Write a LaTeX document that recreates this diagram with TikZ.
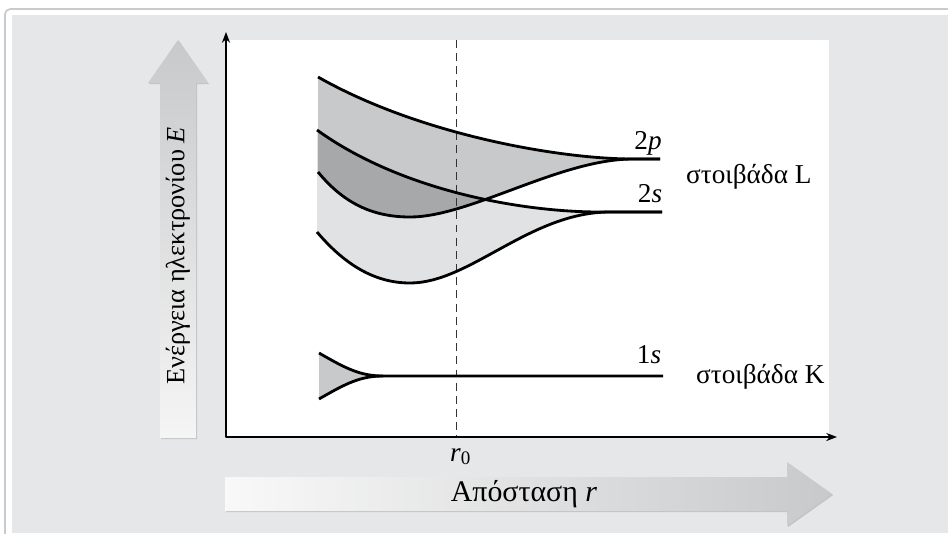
\documentclass[tikz,border=0pt]{standalone}
\usepackage{fontspec}
\setmainfont{Liberation Serif}
\usetikzlibrary{arrows.meta,shadows}
\definecolor{panel}{HTML}{E6E7E8}
\definecolor{rim}{HTML}{C9CACD}
\definecolor{bandmid}{HTML}{C8C9CB}
\definecolor{bandlight}{HTML}{E1E2E3}
\definecolor{banddark}{HTML}{A7A8AA}
\begin{document}
\begin{tikzpicture}[x=0.2mm, y=-0.2mm, line join=round, >=Stealth]
	\tikzset{every node/.style={font=\fontsize{15.5}{18}\selectfont},
		level/.style={line width=1.6pt},
		bigarrow/.style={drop shadow={opacity=0.35,shadow xshift=0.6pt,shadow yshift=-0.6pt}}}
	\def\xo{226}\def\yo{437}\def\rzero{456}
	\useasboundingbox (0,0) rectangle (948,533);
	% frame and plot area
	\draw[rim, line width=1pt, rounded corners=3] (5,560) -- (5,9) -- (970,9);
	\fill[panel] (12,15) rectangle (948,533);
	\fill[white] (\xo,40) rectangle (829,\yo);
	% curves of the L shell
	\def\ptwoup{(318,77) .. controls (420,135) and (560,159) .. (633,159)}
	\def\ptwodown{(318,172) .. controls (345,205) and (375,217) .. (410,217) .. controls (470,217) and (560,159) .. (633,159)}
	\def\ptwodownback{.. controls (560,159) and (470,217) .. (410,217) .. controls (375,217) and (345,205) .. (318,172)}
	\def\stwoup{(317,130) .. controls (400,190) and (520,212) .. (600,212)}
	\def\stwodown{(317,232) .. controls (345,265) and (375,283) .. (410,283) .. controls (470,283) and (530,212) .. (610,212)}
	\def\stwodownback{.. controls (530,212) and (470,283) .. (410,283) .. controls (375,283) and (345,265) .. (317,232)}
	\fill[bandlight] \stwoup -- (610,212) \stwodownback -- cycle;
	\fill[bandmid] \ptwoup \ptwodownback -- cycle;
	\begin{scope}
		\clip \stwoup -- (610,212) \stwodownback -- cycle;
		\fill[banddark] \ptwoup \ptwodownback -- cycle;
	\end{scope}
	% K shell
	\fill[bandmid] (319,353) .. controls (345,368) and (360,376) .. (383,376) .. controls (360,376) and (345,384) .. (319,399) -- cycle;
	\draw[dash pattern=on 4.5pt off 3pt, line width=0.5pt, black!80] (\rzero,40) -- (\rzero,\yo);
	\draw[level] \ptwoup -- (660,159);
	\draw[level] \ptwodown -- (660,159);
	\draw[level] \stwoup -- (662,212);
	\draw[level] \stwodown -- (662,212);
	\draw[level] (319,353) .. controls (345,368) and (360,376) .. (383,376) -- (663,376);
	\draw[level] (319,399) .. controls (345,384) and (360,376) .. (383,376);
	% axes
	\draw[<->, line width=0.7pt] (\xo,32) -- (\xo,\yo) -- (837,\yo);
	\node[anchor=base] (lbl2p) at (648,149) {2\textit{p}};
	\node[anchor=base] (lbl2s) at (650,202) {2\textit{s}};
	\node[anchor=base] (lbl1s) at (649,363) {1\textit{s}};
	\node[anchor=base west] (shellL) at (680,183) {στοιβάδα L};
	\node[anchor=base west] (shellK) at (690,383) {στοιβάδα K};
	\node[anchor=base west] (rlbl) at (444,461) {\textit{r}\textsubscript{0}};
	% shaded arrows
	\shade[bigarrow, top color=bandmid, bottom color=gray!8] (160,438) -- (160,83) -- (148,83) -- (178,40) -- (208,83) -- (196,83) -- (196,438) -- cycle;
	\node[rotate=90, font=\fontsize{15}{18}\selectfont] (elbl) at (178,256) {Ενέργεια ηλεκτρονίου \textit{E}};
	\shade[bigarrow, left color=gray!5, right color=bandmid] (225,477) -- (787,477) -- (787,462) -- (832,494) -- (787,526) -- (787,511) -- (225,511) -- cycle;
	\node[font=\fontsize{17}{20}\selectfont] (rdist) at (524,494) {Απόσταση \textit{r}};
\end{tikzpicture}
\end{document}
